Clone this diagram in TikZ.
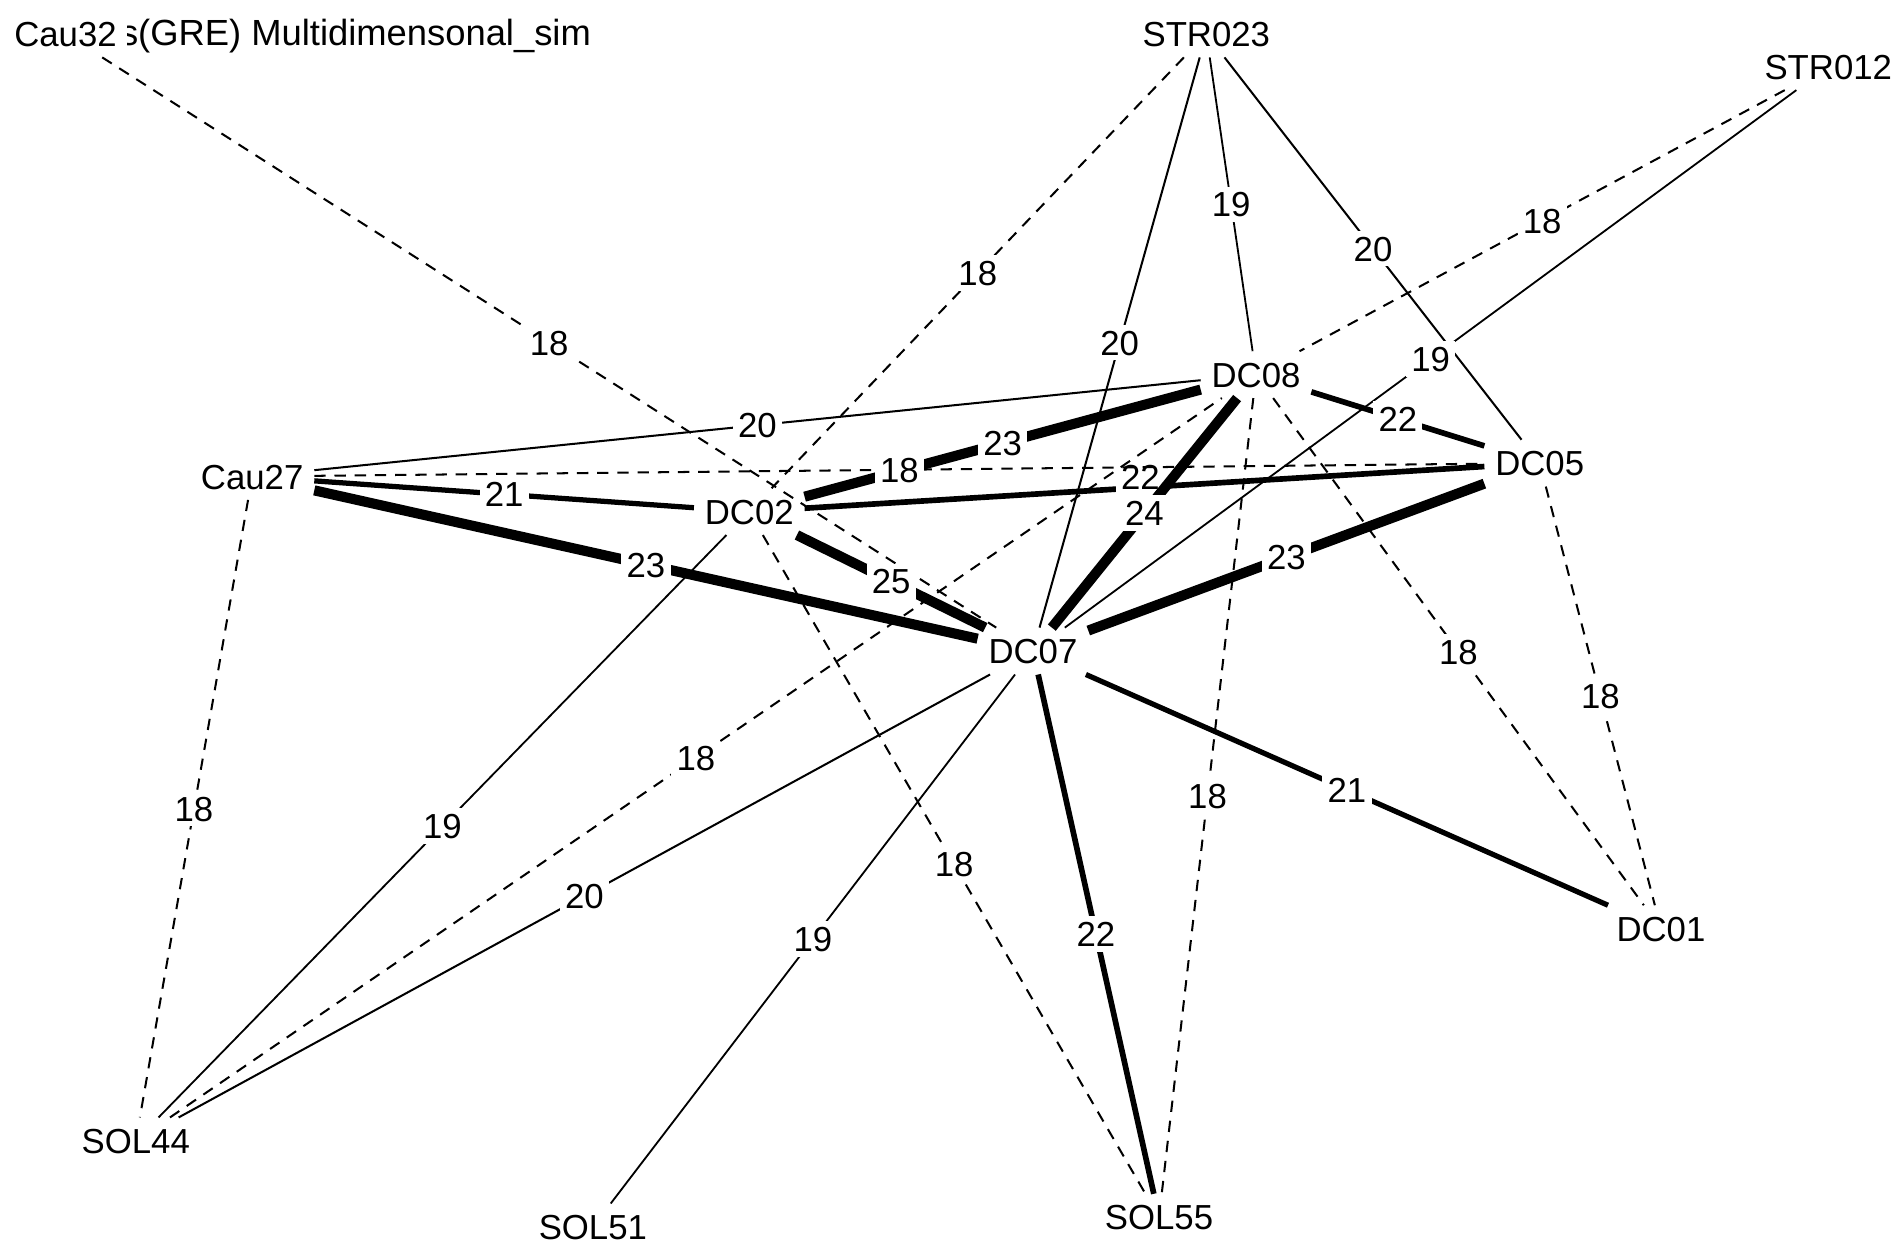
\documentclass[tikz,border=0pt]{standalone}
\usepackage{fontspec}
\setmainfont{Liberation Sans}
\begin{document}
\begin{tikzpicture}[x=0.3pt,y=-0.3pt,
  nd/.style={font=\fontsize{8.6}{10}\selectfont, inner xsep=2.5pt, inner ysep=2.5pt, text height=6.2pt, text depth=0pt},
  el/.style={font=\fontsize{8.6}{10}\selectfont, fill=white, inner sep=1.3pt, text height=6.2pt, text depth=0pt},
  w18/.style={line width=0.5pt, dash pattern=on 2.8pt off 2.2pt},
  w19/.style={line width=0.45pt},
  w20/.style={line width=0.5pt},
  w21/.style={line width=1.3pt},
  w22/.style={line width=1.4pt},
  w23/.style={line width=2.5pt}]
\fill[white] (0,0) rectangle (1568,1031);
\useasboundingbox (0,0) rectangle (1568,1031);
% title (partly covered by the Cau32 label)
\node[nd, font=\fontsize{9}{10}\selectfont, anchor=west] (title) at (90,27) {s(GRE) Multidimensonal\_sim};
% nodes
\node[nd, fill=white] (Cau32) at (54,28) {Cau32};
\node[nd] (STR023) at (995,28) {STR023};
\node[nd] (STR012) at (1508,55) {STR012};
\node[nd] (Cau27) at (208,393) {Cau27};
\node[nd] (DC02) at (618,422) {DC02};
\node[nd] (DC08) at (1036,309) {DC08};
\node[nd] (DC05) at (1270,382) {DC05};
\node[nd] (DC07) at (852,537) {DC07};
\node[nd] (DC01) at (1370,766) {DC01};
\node[nd] (SOL44) at (112,941) {SOL44};
\node[nd] (SOL51) at (489,1012) {SOL51};
\node[nd] (SOL55) at (956,1004) {SOL55};
% edges
\draw[w22] (DC05) -- node[el, xshift=-1pt, yshift=2.5pt]{22} (DC02);
\draw[w23] (DC08) -- node[el]{23} (DC02);
\draw[w18] (Cau32) -- node[el]{18} (DC07);
\draw[w18] (STR023) -- node[el]{18} (DC02);
\draw[w20] (STR023) -- node[el]{20} (DC07);
\draw[w19] (STR023) -- node[el]{19} (DC08);
\draw[w20] (STR023) -- node[el]{20} (DC05);
\draw[w18] (STR012) -- node[el]{18} (DC08);
\draw[w19] (STR012) -- node[el]{19} (DC07);
\draw[w20] (Cau27) -- node[el]{20} (DC08);
\draw[w18] (Cau27) -- node[el]{18} (DC05);
\draw[w21] (Cau27) -- node[el]{21} (DC02);
\draw[w23] (Cau27) -- node[el]{23} (DC07);
\draw[w18] (Cau27) -- node[el]{18} (SOL44);
\draw[w23] (DC02) -- node[el]{25} (DC07);
\draw[w19] (DC02) -- node[el]{19} (SOL44);
\draw[w18] (DC02) -- node[el]{18} (SOL55);
\draw[w22] (DC08) -- node[el]{22} (DC05);
\draw[w23] (DC08) -- node[el]{24} (DC07);
\draw[w18] (DC08) -- node[el]{18} (DC01);
\draw[w18] (DC08) -- node[el]{18} (SOL55);
\draw[w18] (SOL44) -- node[el]{18} (DC08);
\draw[w23] (DC05) -- node[el]{23} (DC07);
\draw[w18] (DC05) -- node[el]{18} (DC01);
\draw[w21] (DC07) -- node[el]{21} (DC01);
\draw[w22] (DC07) -- node[el]{22} (SOL55);
\draw[w19] (DC07) -- node[el]{19} (SOL51);
\draw[w20] (DC07) -- node[el]{20} (SOL44);
\end{tikzpicture}
\end{document}
